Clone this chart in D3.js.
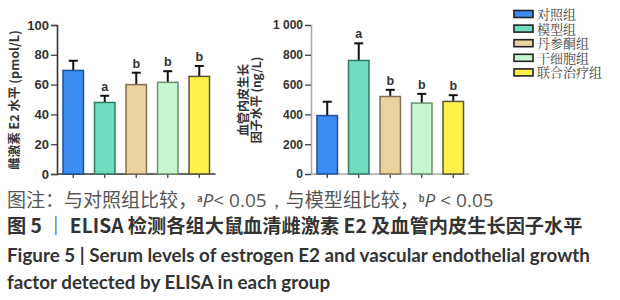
<!DOCTYPE html>
<html>
<head>
<meta charset="utf-8">
<script src="https://cdn.jsdelivr.net/npm/d3@7"></script>
<style>
  body { margin: 0; background: #fff; }
  svg { display: block; }
</style>
</head>
<body>
<div id="chart"></div>
<script>
// groups and values
const groups = ["对照组", "模型组", "丹参酮组", "干细胞组", "联合治疗组"];
const e2Means = [69.5, 48, 60, 61.5, 65.5];
const e2Errs = [6.5, 4.5, 8, 7.5, 7];
const e2Marks = ["", "a", "b", "b", "b"];
const vegfMeans = [392, 762, 520, 476, 487];
const vegfErrs = [93, 115, 45, 62, 42];
const vegfMarks = ["", "a", "b", "b", "b"];
const e2Ticks = [0, 20, 40, 60, 80, 100];
const vegfTicks = [0, 200, 400, 600, 800, 1000];

const fills = ["#3d8cf2", "#72dcc0", "#e8d29e", "#c6f6d2", "#fff04a"];
const strokes = ["#1d4f99", "#2f7a66", "#857052", "#6a8e72", "#555533"];

const W = 620, H = 300;
const svg = d3.select("#chart").append("svg")
  .attr("width", W).attr("height", H);

const sans = "'Liberation Sans', Arial, sans-serif";
const cjk = "'Noto Sans CJK SC', sans-serif";

function panel(opts) {
  const { x0, x1, means, errs, marks, ticks, max, fmt, axisColor, tickSize } = opts;
  const y = d3.scaleLinear().domain([0, max]).range([174, 25]);
  const x = d3.scaleBand().domain(groups).range([x0, x1])
    .paddingInner(0.35).paddingOuter(0.19);

  const g = svg.append("g");

  // y axis
  const ya = g.append("g")
    .attr("transform", `translate(${x0},0)`)
    .call(d3.axisLeft(y).tickValues(ticks).tickFormat(fmt).tickSize(6).tickPadding(2));
  ya.select(".domain").attr("stroke", axisColor).attr("stroke-width", 1.6);
  ya.selectAll(".tick line").attr("stroke", "#444").attr("stroke-width", 1.3);
  ya.selectAll("text")
    .attr("fill", "#333")
    .style("font-family", sans)
    .style("font-size", tickSize + "px")
    .style("font-weight", "bold");

  // x axis
  const xa = g.append("g")
    .attr("transform", `translate(0,${y(0)})`)
    .call(d3.axisBottom(x).tickSize(4).tickFormat(""));
  xa.select(".domain").attr("stroke", axisColor).attr("stroke-width", 1.6)
    .attr("d", `M${x0},0H${x1}`);
  xa.selectAll(".tick line").attr("stroke", "#444").attr("stroke-width", 1.3);

  const data = groups.map((k, i) => ({ k, i, m: means[i], e: errs[i], mark: marks[i] }));

  // error bars (upper only)
  const eb = g.selectAll(".err").data(data).enter().append("g");
  eb.append("line")
    .attr("x1", d => x(d.k) + x.bandwidth() / 2)
    .attr("x2", d => x(d.k) + x.bandwidth() / 2)
    .attr("y1", d => y(d.m))
    .attr("y2", d => y(d.m + d.e))
    .attr("stroke", "#111").attr("stroke-width", 2);
  eb.append("line")
    .attr("x1", d => x(d.k) + x.bandwidth() / 2 - 4.5)
    .attr("x2", d => x(d.k) + x.bandwidth() / 2 + 4.5)
    .attr("y1", d => y(d.m + d.e))
    .attr("y2", d => y(d.m + d.e))
    .attr("stroke", "#111").attr("stroke-width", 2);

  // bars
  g.selectAll(".bar").data(data).enter().append("rect")
    .attr("x", d => x(d.k))
    .attr("y", d => y(d.m))
    .attr("width", x.bandwidth())
    .attr("height", d => y(0) - y(d.m))
    .attr("fill", d => fills[d.i])
    .attr("stroke", d => strokes[d.i])
    .attr("stroke-width", 1.5);

  // significance letters
  g.selectAll(".mark").data(data).enter().append("text")
    .attr("x", d => x(d.k) + x.bandwidth() / 2)
    .attr("y", d => y(d.m + d.e) - 5)
    .attr("text-anchor", "middle")
    .attr("fill", "#333")
    .style("font-family", sans)
    .style("font-size", "12.5px")
    .style("font-weight", "bold")
    .text(d => d.mark);
}

panel({ x0: 57, x1: 215.5, means: e2Means, errs: e2Errs, marks: e2Marks,
  ticks: e2Ticks, max: 100, fmt: d3.format("d"), axisColor: "#333", tickSize: 13 });
panel({ x0: 311, x1: 469.5, means: vegfMeans, errs: vegfErrs, marks: vegfMarks,
  ticks: vegfTicks, max: 1000, fmt: d => d >= 1000 ? "1 000" : String(d),
  axisColor: "#aaa", tickSize: 12 });

// y titles
svg.append("text")
  .attr("transform", "translate(19,100) rotate(-90)")
  .attr("text-anchor", "middle")
  .attr("fill", "#333")
  .style("font-family", cjk)
  .style("font-size", "12.5px")
  .style("font-weight", "bold")
  .text("雌激素 E2 水平 (pmol/L)");

const t2 = svg.append("text")
  .attr("transform", "translate(250,100) rotate(-90)")
  .attr("text-anchor", "middle")
  .attr("fill", "#333")
  .style("font-family", cjk)
  .style("font-size", "12px")
  .style("font-weight", "bold");
t2.append("tspan").attr("x", 0).attr("y", -2).text("血管内皮生长");
t2.append("tspan").attr("x", 0).attr("y", 11).text("因子水平 (ng/L)");

// legend
const leg = svg.append("g").attr("transform", "translate(514,14)");
groups.forEach((gname, i) => {
  const row = leg.append("g").attr("transform", `translate(0,${i * 14.6})`);
  row.append("rect")
    .attr("x", 0).attr("y", -3.5).attr("width", 19).attr("height", 7)
    .attr("fill", fills[i]).attr("stroke", "#222").attr("stroke-width", 1.6);
  row.append("text")
    .attr("x", 23).attr("y", 5)
    .attr("fill", "#444")
    .style("font-family", "'Noto Serif CJK SC', 'Noto Sans CJK SC', serif")
    .style("font-size", "13px")
    .text(gname);
});

// captions
function fitWidth(sel, target) {
  const w = sel.node().getBBox().width;
  const fs = parseFloat(sel.style("font-size"));
  sel.style("font-size", (fs * target / w) + "px");
}

const c1 = svg.append("text").attr("x", 7).attr("y", 207)
  .attr("fill", "#555").style("font-family", cjk).style("font-size", "15px");
c1.append("tspan").text("图注：与对照组比较，");
c1.append("tspan").attr("dy", -5).style("font-size", "9px").style("font-weight", "bold").text("a");
c1.append("tspan").attr("dy", 5).style("font-style", "italic").style("font-family", "'Open Sans', sans-serif").text("P");
c1.append("tspan").style("font-family", "'Open Sans', sans-serif").text("< 0.05，");
c1.append("tspan").text("与模型组比较，");
c1.append("tspan").attr("dy", -5).style("font-size", "9px").style("font-weight", "bold").text("b");
c1.append("tspan").attr("dy", 5).style("font-style", "italic").style("font-family", "'Open Sans', sans-serif").text("P");
c1.append("tspan").style("font-family", "'Open Sans', sans-serif").text(" < 0.05");
fitWidth(c1, 490);

const c2 = svg.append("text").attr("x", 7).attr("y", 233)
  .attr("fill", "#333").style("font-family", cjk).style("font-size", "15px")
  .style("font-weight", "bold")
  .text("图 5 ｜ ELISA 检测各组大鼠血清雌激素 E2 及血管内皮生长因子水平");
fitWidth(c2, 576);

const c3 = svg.append("text").attr("x", 7).attr("y", 262)
  .attr("fill", "#333").style("font-family", "Lato, sans-serif").style("font-size", "15px")
  .style("font-weight", "bold")
  .text("Figure 5  |  Serum levels of estrogen E2 and vascular endothelial growth");
fitWidth(c3, 583);

const c4 = svg.append("text").attr("x", 7).attr("y", 289)
  .attr("fill", "#333").style("font-family", "Lato, sans-serif")
  .style("font-size", c3.style("font-size"))
  .style("font-weight", "bold")
  .text("factor detected by ELISA in each group");
</script>
</body>
</html>
